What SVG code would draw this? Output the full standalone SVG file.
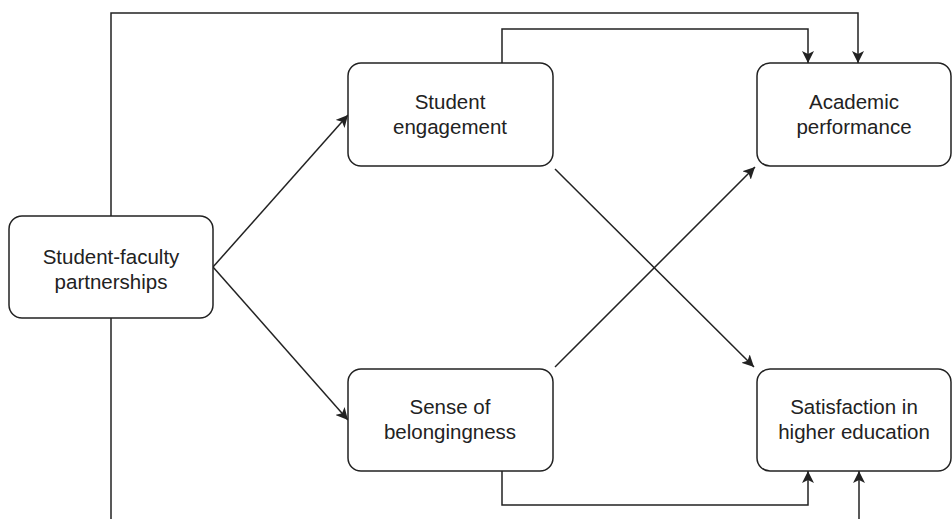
<svg xmlns="http://www.w3.org/2000/svg" width="952" height="519" viewBox="0 0 952 519">
<style>
.box{fill:#fff;stroke:#222;stroke-width:1.5}
.t{font-family:"Liberation Sans",Arial,sans-serif;font-size:20.5px;fill:#222;text-anchor:middle}
.c{fill:none;stroke:#222;stroke-width:1.5}
</style>
<defs>
<marker id="ah" viewBox="0 0 10 10" refX="10" refY="5" markerWidth="12" markerHeight="12" markerUnits="userSpaceOnUse" orient="auto">
<path d="M0,0 L10,5 L0,10 L2.5,5 Z" fill="#222"/>
</marker>
</defs>
<rect width="952" height="519" fill="#fff"/>
<g id="connectors">
<path class="c" d="M111,519 V318"/>
<path class="c" d="M111,216 V13 H858 V63" marker-end="url(#ah)"/>
<path class="c" d="M502,63 V29 H808 V63" marker-end="url(#ah)"/>
<path class="c" d="M213,267 L348,115" marker-end="url(#ah)"/>
<path class="c" d="M213,267 L348,420" marker-end="url(#ah)"/>
<path class="c" d="M555,169 L754,367" marker-end="url(#ah)"/>
<path class="c" d="M555,367 L755,167" marker-end="url(#ah)"/>
<path class="c" d="M502,471 V505 H808 V471" marker-end="url(#ah)"/>
<path class="c" d="M859,519 V471" marker-end="url(#ah)"/>
</g>
<g id="partnerships">
<rect class="box" x="9" y="216" width="204" height="102" rx="13"/>
<text class="t" x="111" y="264">Student-faculty</text>
<text class="t" x="111" y="289">partnerships</text>
</g>
<g id="engagement">
<rect class="box" x="348" y="63" width="205" height="103" rx="13"/>
<text class="t" x="450" y="109">Student</text>
<text class="t" x="450" y="134">engagement</text>
</g>
<g id="belongingness">
<rect class="box" x="348" y="369" width="205" height="102" rx="13"/>
<text class="t" x="450" y="414">Sense of</text>
<text class="t" x="450" y="439">belongingness</text>
</g>
<g id="academic">
<rect class="box" x="757" y="63" width="194" height="103" rx="13"/>
<text class="t" x="854" y="109">Academic</text>
<text class="t" x="854" y="134">performance</text>
</g>
<g id="satisfaction">
<rect class="box" x="757" y="369" width="194" height="102" rx="13"/>
<text class="t" x="854" y="414">Satisfaction in</text>
<text class="t" x="854" y="439">higher education</text>
</g>
</svg>
